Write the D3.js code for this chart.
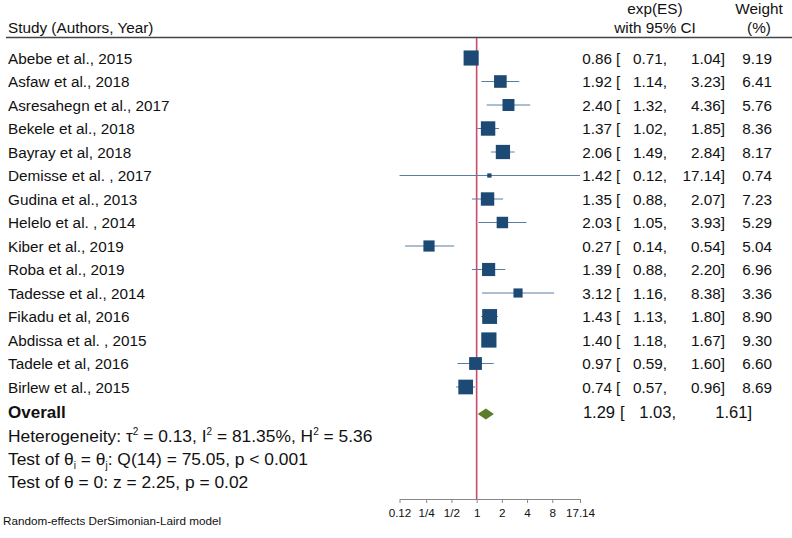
<!DOCTYPE html>
<html><head><meta charset="utf-8">
<script src="https://cdn.jsdelivr.net/npm/d3@7"></script>
<style>body{margin:0;background:#fff}svg{display:block}text{font-family:"Liberation Sans",Arial,sans-serif;fill:#111}</style>
</head><body>
<svg id="c" width="792" height="538"></svg>
<script>
const studies = ["Abebe et al., 2015","Asfaw et al., 2018","Asresahegn et al., 2017","Bekele et al., 2018","Bayray et al, 2018","Demisse et al. , 2017","Gudina et al., 2013","Helelo et al. , 2014","Kiber et al., 2019","Roba et al., 2019","Tadesse et al., 2014","Fikadu et al, 2016","Abdissa et al. , 2015","Tadele et al, 2016","Birlew et al., 2015"];
const es    = [0.86,1.92,2.40,1.37,2.06,1.42,1.35,2.03,0.27,1.39,3.12,1.43,1.40,0.97,0.74];
const lower = [0.71,1.14,1.32,1.02,1.49,0.12,0.88,1.05,0.14,0.88,1.16,1.13,1.18,0.59,0.57];
const upper = [1.04,3.23,4.36,1.85,2.84,17.14,2.07,3.93,0.54,2.20,8.38,1.80,1.67,1.60,0.96];
const weight= [9.19,6.41,5.76,8.36,8.17,0.74,7.23,5.29,5.04,6.96,3.36,8.90,9.30,6.60,8.69];
const overall = {es:1.29, lower:1.03, upper:1.61};
const tickValues = [0.12,0.25,0.5,1,2,4,8,17.14];
const tickLabels = ["0.12","1/4","1/2","1","2","4","8","17.14"];

const svg = d3.select("#c");
const x = d3.scaleLog().domain([0.12,17.14]).range([399.5,580]);
const y = d3.scaleLinear().domain([0,14]).range([58,387]);
const f2 = d3.format(".2f");
const sz = d3.scaleSqrt().domain([0,9.3]).range([0,15.2]);
const FS = "15.3px";

// header
svg.append("text").attr("x",8).attr("y",33).style("font-size",FS).text("Study (Authors, Year)");
svg.append("text").attr("x",655).attr("y",14).attr("text-anchor","middle").style("font-size",FS).text("exp(ES)");
svg.append("text").attr("x",655).attr("y",33).attr("text-anchor","middle").style("font-size",FS).text("with 95% CI");
svg.append("text").attr("x",759).attr("y",14).attr("text-anchor","middle").style("font-size",FS).text("Weight");
svg.append("text").attr("x",759).attr("y",33).attr("text-anchor","middle").style("font-size",FS).text("(%)");
svg.append("line").attr("x1",6).attr("x2",792).attr("y1",37.5).attr("y2",37.5).attr("stroke","#444").attr("stroke-width",1.5);

// reference line
svg.append("line").attr("x1",x(1)).attr("x2",x(1)).attr("y1",38).attr("y2",499).attr("stroke","#c94a6a").attr("stroke-width",1.6);

// rows
const rows = svg.append("g").selectAll("g").data(studies).join("g");
rows.append("line").attr("x1",(d,i)=>x(lower[i])).attr("x2",(d,i)=>x(upper[i]))
  .attr("y1",(d,i)=>y(i)).attr("y2",(d,i)=>y(i)).attr("stroke","#5b7ca3").attr("stroke-width",1);
rows.append("rect").attr("x",(d,i)=>x(es[i])-sz(weight[i])/2).attr("y",(d,i)=>y(i)-sz(weight[i])/2)
  .attr("width",(d,i)=>sz(weight[i])).attr("height",(d,i)=>sz(weight[i])).attr("fill","#1c4a75");
rows.append("text").attr("x",8).attr("y",(d,i)=>y(i)+5.5).style("font-size",FS).text(d=>d);
rows.append("text").attr("x",612).attr("y",(d,i)=>y(i)+5.5).attr("text-anchor","end").style("font-size",FS).text((d,i)=>f2(es[i]));
rows.append("text").attr("x",616).attr("y",(d,i)=>y(i)+5.5).style("font-size",FS).text("[");
rows.append("text").attr("x",667).attr("y",(d,i)=>y(i)+5.5).attr("text-anchor","end").style("font-size",FS).text((d,i)=>f2(lower[i])+",");
rows.append("text").attr("x",725).attr("y",(d,i)=>y(i)+5.5).attr("text-anchor","end").style("font-size",FS).text((d,i)=>f2(upper[i])+"]");
rows.append("text").attr("x",772).attr("y",(d,i)=>y(i)+5.5).attr("text-anchor","end").style("font-size",FS).text((d,i)=>f2(weight[i]));

// overall
const oy = 414;
svg.append("text").attr("x",8).attr("y",418).style("font-size","17px").style("font-weight","bold").text("Overall");
svg.append("path").attr("d",`M${x(overall.lower)},${oy} L${x(overall.es)},${oy-5.5} L${x(overall.upper)},${oy} L${x(overall.es)},${oy+5.5}Z`).attr("fill","#5e7d2c");
svg.append("text").attr("x",615).attr("y",418).attr("text-anchor","end").style("font-size","16.5px").text(f2(overall.es));
svg.append("text").attr("x",620).attr("y",418).style("font-size","16.5px").text("[");
svg.append("text").attr("x",676).attr("y",418).attr("text-anchor","end").style("font-size","16.5px").text(f2(overall.lower)+",");
svg.append("text").attr("x",752).attr("y",418).attr("text-anchor","end").style("font-size","16.5px").text(f2(overall.upper)+"]");

// stats
const SF = "17.4px";
const t1 = svg.append("text").attr("x",8).attr("y",442).style("font-size",SF);
t1.append("tspan").text("Heterogeneity: τ");
t1.append("tspan").attr("dy",-7).style("font-size","10px").text("2");
t1.append("tspan").attr("dy",7).text(" = 0.13, I");
t1.append("tspan").attr("dy",-7).style("font-size","10px").text("2");
t1.append("tspan").attr("dy",7).text(" = 81.35%, H");
t1.append("tspan").attr("dy",-7).style("font-size","10px").text("2");
t1.append("tspan").attr("dy",7).text(" = 5.36");
const t2 = svg.append("text").attr("x",8).attr("y",465).style("font-size",SF);
t2.append("tspan").text("Test of θ");
t2.append("tspan").attr("dy",4).style("font-size","10px").text("i");
t2.append("tspan").attr("dy",-4).text(" = θ");
t2.append("tspan").attr("dy",4).style("font-size","10px").text("j");
t2.append("tspan").attr("dy",-4).text(": Q(14) = 75.05, p < 0.001");
svg.append("text").attr("x",8).attr("y",488).style("font-size",SF).text("Test of θ = 0: z = 2.25, p = 0.02");
svg.append("text").attr("x",3).attr("y",525).style("font-size","11.7px").text("Random-effects DerSimonian-Laird model");

// axis
const ax = svg.append("g").attr("transform","translate(0,499)")
  .call(d3.axisBottom(x).tickValues(tickValues).tickFormat((d,i)=>tickLabels[i]).tickSize(4).tickSizeOuter(0));
ax.select(".domain").attr("stroke","#888");
ax.selectAll(".tick line").attr("stroke","#888");
ax.selectAll(".tick text").attr("dy","0.9em").style("font-size","11.7px").style("font-family","Liberation Sans, Arial, sans-serif").attr("fill","#222");
</script>
</body></html>
